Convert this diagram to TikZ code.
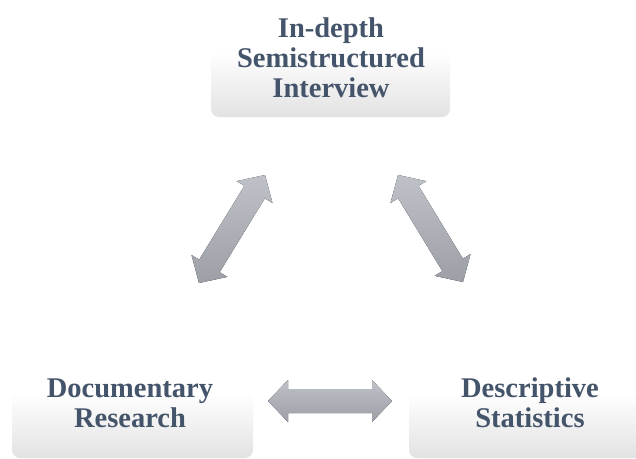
\documentclass[tikz,border=0pt]{standalone}
\usepackage{fontspec}
\setmainfont{Liberation Serif}
\usetikzlibrary{calc}
\definecolor{txt}{RGB}{68,84,106}
\definecolor{boxbot}{RGB}{226,226,226}
\definecolor{arrtop}{RGB}{190,193,199}
\definecolor{arrbot}{RGB}{156,159,166}
\pgfdeclareverticalshading{boxsh}{100bp}{color(0bp)=(boxbot); color(25bp)=(boxbot); color(52bp)=(white); color(100bp)=(white)}
\tikzset{
  gbox/.style={rounded corners=8pt, shading=boxsh},
  lbl/.style={font=\fontsize{28.5}{30}\selectfont\bfseries, text=txt, align=center, inner sep=0pt},
  arrfill/.style={top color=arrtop, bottom color=arrbot, draw=none}
}
\newcommand\dblarr[2]{%
  \coordinate (a1) at ($(#1)!20pt!(#2)$);
  \coordinate (b1) at ($(#2)!20pt!(#1)$);
  \fill[arrfill] (#1) -- ($(a1)!21pt!90:(#2)$) -- ($(a1)!12pt!90:(#2)$)
    -- ($(b1)!12pt!-90:(#1)$) -- ($(b1)!21pt!-90:(#1)$) -- (#2)
    -- ($(b1)!21pt!90:(#1)$) -- ($(b1)!12pt!90:(#1)$)
    -- ($(a1)!12pt!-90:(#2)$) -- ($(a1)!21pt!-90:(#2)$) -- cycle;
}
\begin{document}
\begin{tikzpicture}[x=1pt,y=-1pt]
\useasboundingbox (0,0) rectangle (636,458);
\clip (0,0) rectangle (636,458);
% boxes
\shade[gbox] (211,-4) rectangle (450,117);
\shade[gbox] (12,338) rectangle (253,458);
\shade[gbox] (409,338) rectangle (650,458);
% labels
\node[lbl] (top) at (331,58) {In-depth\\Semistructured\\Interview};
\node[lbl] (left) at (130,403) {Documentary\\Research};
\node[lbl] (right) at (530,403) {Descriptive\\Statistics};
% arrows
\coordinate (la) at (199,283);
\coordinate (lb) at (265,175);
\coordinate (ra) at (398,175);
\coordinate (rb) at (463,282);
\coordinate (ha) at (268,401);
\coordinate (hb) at (392,401);
\dblarr{la}{lb}
\dblarr{ra}{rb}
\dblarr{ha}{hb}
\end{tikzpicture}
\end{document}
